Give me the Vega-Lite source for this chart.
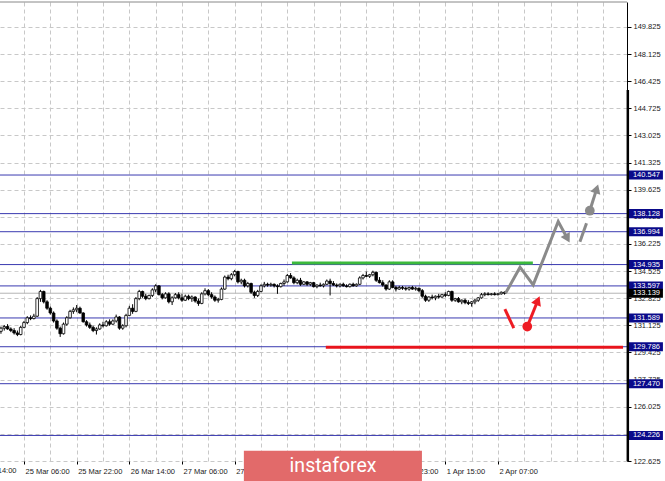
{
"$schema":"https://vega.github.io/schema/vega-lite/v6.json",
"width":627,"height":459,
"autosize":"none",
"padding":{"left":0,"top":2,"right":38,"bottom":20},
"background":"white",
"config":{"view":{"stroke":null}},
"resolve":{"axis":{"x":"independent","y":"independent"}},
"datasets":{
"levels":[{"level":140.547},{"level":138.128},{"level":136.994},{"level":134.935},{"level":133.597},{"level":131.589},{"level":129.786},{"level":127.470},{"level":124.226}],
"price":[{"level":133.139}],
"zones":[{"t1":81.4,"t2":154.6,"p":135.03,"z":"resistance"},{"t1":91.7,"t2":182.0,"p":129.75,"z":"support"}],
"greypath":[{"seg":"a","i":0,"t":146.3,"p":133.14},{"seg":"a","i":1,"t":150.7,"p":134.77},{"seg":"a","i":2,"t":154.7,"p":133.66},{"seg":"a","i":3,"t":162.3,"p":137.63},{"seg":"a","i":4,"t":165.1,"p":136.57},{"seg":"b","i":0,"t":168.9,"p":136.37},{"seg":"b","i":1,"t":170.9,"p":137.52},{"seg":"c","i":0,"t":171.9,"p":138.31},{"seg":"c","i":1,"t":174.0,"p":139.69}],
"redpath":[{"seg":"a","i":0,"t":146.1,"p":132.14},{"seg":"a","i":1,"t":148.8,"p":130.95},{"seg":"b","i":0,"t":152.9,"p":131.05},{"seg":"b","i":1,"t":156.1,"p":132.68}],
"dots":[{"t":171.9,"p":138.31,"k":"grey"},{"t":152.9,"p":131.05,"k":"red"}],
"candles":[
{"t":-7,"o":130.75,"h":131.05,"l":130.6,"c":130.95},
{"t":-6,"o":130.95,"h":131.15,"l":130.8,"c":131.05},
{"t":-5,"o":131.05,"h":131.2,"l":130.85,"c":130.9},
{"t":-4,"o":130.9,"h":131.0,"l":130.7,"c":130.8},
{"t":-3,"o":130.8,"h":130.95,"l":130.55,"c":130.65},
{"t":-2,"o":130.65,"h":130.8,"l":130.45,"c":130.55},
{"t":-1,"o":130.55,"h":131.1,"l":130.5,"c":131.0},
{"t":0,"o":131.0,"h":131.4,"l":130.95,"c":131.3},
{"t":1,"o":131.3,"h":131.7,"l":131.2,"c":131.6},
{"t":2,"o":131.6,"h":131.75,"l":131.45,"c":131.55},
{"t":3,"o":131.55,"h":131.85,"l":131.5,"c":131.7},
{"t":4,"o":131.7,"h":132.9,"l":131.65,"c":132.8},
{"t":5,"o":132.8,"h":133.35,"l":132.6,"c":133.25},
{"t":6,"o":133.25,"h":133.3,"l":132.5,"c":132.6},
{"t":7,"o":132.6,"h":132.7,"l":132.1,"c":132.2},
{"t":8,"o":132.2,"h":132.3,"l":131.8,"c":131.9},
{"t":9,"o":131.9,"h":132.0,"l":131.3,"c":131.4},
{"t":10,"o":131.4,"h":131.5,"l":130.85,"c":130.95},
{"t":11,"o":130.95,"h":131.05,"l":130.4,"c":130.6},
{"t":12,"o":130.6,"h":131.3,"l":130.55,"c":131.2},
{"t":13,"o":131.2,"h":131.7,"l":131.1,"c":131.6},
{"t":14,"o":131.6,"h":132.1,"l":131.55,"c":132.0},
{"t":15,"o":132.0,"h":132.25,"l":131.85,"c":132.1},
{"t":16,"o":132.1,"h":132.4,"l":131.95,"c":132.2},
{"t":17,"o":132.2,"h":132.3,"l":131.85,"c":131.9},
{"t":18,"o":131.9,"h":131.95,"l":131.3,"c":131.35},
{"t":19,"o":131.35,"h":131.45,"l":131.05,"c":131.15},
{"t":20,"o":131.15,"h":131.3,"l":130.9,"c":131.0},
{"t":21,"o":131.0,"h":131.1,"l":130.7,"c":130.8},
{"t":22,"o":130.8,"h":131.0,"l":130.55,"c":130.9},
{"t":23,"o":130.9,"h":131.25,"l":130.85,"c":131.15},
{"t":24,"o":131.15,"h":131.35,"l":131.0,"c":131.1},
{"t":25,"o":131.1,"h":131.45,"l":131.05,"c":131.35},
{"t":26,"o":131.35,"h":131.5,"l":131.1,"c":131.2},
{"t":27,"o":131.2,"h":131.5,"l":131.15,"c":131.4},
{"t":28,"o":131.4,"h":131.8,"l":131.3,"c":131.65},
{"t":29,"o":131.65,"h":131.7,"l":130.85,"c":130.95},
{"t":30,"o":130.95,"h":131.2,"l":130.85,"c":131.1},
{"t":31,"o":131.1,"h":131.85,"l":131.0,"c":131.75},
{"t":32,"o":131.75,"h":132.35,"l":131.7,"c":132.2},
{"t":33,"o":132.2,"h":132.45,"l":131.85,"c":132.0},
{"t":34,"o":132.0,"h":132.9,"l":131.95,"c":132.8},
{"t":35,"o":132.8,"h":133.35,"l":132.7,"c":133.25},
{"t":36,"o":133.25,"h":133.3,"l":132.85,"c":132.95},
{"t":37,"o":132.95,"h":133.1,"l":132.7,"c":132.8},
{"t":38,"o":132.8,"h":133.05,"l":132.75,"c":133.0},
{"t":39,"o":133.0,"h":133.45,"l":132.9,"c":133.35},
{"t":40,"o":133.35,"h":133.7,"l":133.2,"c":133.6},
{"t":41,"o":133.6,"h":133.65,"l":133.0,"c":133.05},
{"t":42,"o":133.05,"h":133.15,"l":132.75,"c":132.85},
{"t":43,"o":132.85,"h":133.2,"l":132.8,"c":133.1},
{"t":44,"o":133.1,"h":133.2,"l":132.5,"c":132.6},
{"t":45,"o":132.6,"h":132.95,"l":132.4,"c":132.85},
{"t":46,"o":132.85,"h":133.15,"l":132.8,"c":133.05},
{"t":47,"o":133.05,"h":133.2,"l":132.75,"c":132.85},
{"t":48,"o":132.85,"h":133.1,"l":132.6,"c":132.7},
{"t":49,"o":132.7,"h":133.05,"l":132.65,"c":132.95},
{"t":50,"o":132.95,"h":133.05,"l":132.7,"c":132.8},
{"t":51,"o":132.8,"h":133.0,"l":132.6,"c":132.9},
{"t":52,"o":132.9,"h":132.95,"l":132.55,"c":132.65},
{"t":53,"o":132.65,"h":132.8,"l":132.35,"c":132.5},
{"t":54,"o":132.5,"h":133.2,"l":132.45,"c":133.1},
{"t":55,"o":133.1,"h":133.45,"l":133.0,"c":133.3},
{"t":56,"o":133.3,"h":133.4,"l":132.95,"c":133.05},
{"t":57,"o":133.05,"h":133.2,"l":132.8,"c":132.9},
{"t":58,"o":132.9,"h":133.0,"l":132.6,"c":132.7},
{"t":59,"o":132.7,"h":132.85,"l":132.55,"c":132.75},
{"t":60,"o":132.75,"h":133.5,"l":132.7,"c":133.4},
{"t":61,"o":133.4,"h":134.25,"l":133.35,"c":134.15},
{"t":62,"o":134.15,"h":134.3,"l":133.95,"c":134.05},
{"t":63,"o":134.05,"h":134.4,"l":133.95,"c":134.3},
{"t":64,"o":134.3,"h":134.6,"l":134.2,"c":134.5},
{"t":65,"o":134.5,"h":134.55,"l":133.75,"c":133.85},
{"t":66,"o":133.85,"h":134.05,"l":133.7,"c":133.95},
{"t":67,"o":133.95,"h":134.05,"l":133.5,"c":133.6},
{"t":68,"o":133.6,"h":133.85,"l":133.5,"c":133.75},
{"t":69,"o":133.75,"h":133.8,"l":133.1,"c":133.2},
{"t":70,"o":133.2,"h":133.3,"l":132.85,"c":133.0},
{"t":71,"o":133.0,"h":133.35,"l":132.9,"c":133.25},
{"t":72,"o":133.25,"h":133.7,"l":133.2,"c":133.6},
{"t":73,"o":133.6,"h":133.85,"l":133.5,"c":133.7},
{"t":74,"o":133.7,"h":133.8,"l":133.55,"c":133.65},
{"t":75,"o":133.65,"h":133.8,"l":133.55,"c":133.7},
{"t":76,"o":133.7,"h":133.75,"l":133.5,"c":133.6},
{"t":77,"o":133.6,"h":133.7,"l":133.1,"c":133.55},
{"t":78,"o":133.55,"h":133.8,"l":133.5,"c":133.75},
{"t":79,"o":133.75,"h":134.0,"l":133.6,"c":133.85},
{"t":80,"o":133.85,"h":134.35,"l":133.8,"c":134.25},
{"t":81,"o":134.25,"h":134.4,"l":134.05,"c":134.1},
{"t":82,"o":134.1,"h":134.2,"l":133.7,"c":133.8},
{"t":83,"o":133.8,"h":134.05,"l":133.7,"c":133.95},
{"t":84,"o":133.95,"h":134.1,"l":133.6,"c":133.7},
{"t":85,"o":133.7,"h":133.9,"l":133.65,"c":133.85},
{"t":86,"o":133.85,"h":133.9,"l":133.6,"c":133.7},
{"t":87,"o":133.7,"h":133.85,"l":133.6,"c":133.8},
{"t":88,"o":133.8,"h":133.85,"l":133.5,"c":133.55},
{"t":89,"o":133.55,"h":133.7,"l":133.45,"c":133.65},
{"t":90,"o":133.65,"h":133.8,"l":133.55,"c":133.6},
{"t":91,"o":133.6,"h":133.75,"l":133.5,"c":133.7},
{"t":92,"o":133.7,"h":134.0,"l":133.65,"c":133.9},
{"t":93,"o":133.9,"h":134.05,"l":133.0,"c":133.75},
{"t":94,"o":133.75,"h":133.9,"l":133.6,"c":133.65},
{"t":95,"o":133.65,"h":133.75,"l":133.5,"c":133.6},
{"t":96,"o":133.6,"h":133.75,"l":133.5,"c":133.7},
{"t":97,"o":133.7,"h":133.8,"l":133.55,"c":133.6},
{"t":98,"o":133.6,"h":133.7,"l":133.5,"c":133.55},
{"t":99,"o":133.55,"h":133.75,"l":133.5,"c":133.7},
{"t":100,"o":133.7,"h":133.8,"l":133.55,"c":133.6},
{"t":101,"o":133.6,"h":133.75,"l":133.55,"c":133.7},
{"t":102,"o":133.7,"h":134.2,"l":133.65,"c":134.1},
{"t":103,"o":134.1,"h":134.35,"l":134.0,"c":134.25},
{"t":104,"o":134.25,"h":134.5,"l":134.15,"c":134.2},
{"t":105,"o":134.2,"h":134.35,"l":134.1,"c":134.3},
{"t":106,"o":134.3,"h":134.55,"l":134.2,"c":134.45},
{"t":107,"o":134.45,"h":134.5,"l":133.85,"c":133.95},
{"t":108,"o":133.95,"h":134.15,"l":133.75,"c":133.8},
{"t":109,"o":133.8,"h":133.95,"l":133.55,"c":133.65},
{"t":110,"o":133.65,"h":133.7,"l":133.3,"c":133.4},
{"t":111,"o":133.4,"h":133.95,"l":133.35,"c":133.85},
{"t":112,"o":133.85,"h":133.95,"l":133.45,"c":133.5},
{"t":113,"o":133.5,"h":133.6,"l":133.25,"c":133.4},
{"t":114,"o":133.4,"h":133.6,"l":133.35,"c":133.5},
{"t":115,"o":133.5,"h":133.6,"l":133.35,"c":133.45},
{"t":116,"o":133.45,"h":133.55,"l":133.3,"c":133.4},
{"t":117,"o":133.4,"h":133.55,"l":133.3,"c":133.5},
{"t":118,"o":133.5,"h":133.6,"l":133.35,"c":133.4},
{"t":119,"o":133.4,"h":133.55,"l":133.3,"c":133.45},
{"t":120,"o":133.45,"h":133.5,"l":133.2,"c":133.3},
{"t":121,"o":133.3,"h":133.4,"l":132.85,"c":132.95},
{"t":122,"o":132.95,"h":133.05,"l":132.6,"c":132.7},
{"t":123,"o":132.7,"h":132.95,"l":132.6,"c":132.9},
{"t":124,"o":132.9,"h":133.05,"l":132.75,"c":132.85},
{"t":125,"o":132.85,"h":133.0,"l":132.7,"c":132.95},
{"t":126,"o":132.95,"h":133.1,"l":132.8,"c":132.9},
{"t":127,"o":132.9,"h":133.1,"l":132.85,"c":133.05},
{"t":128,"o":133.05,"h":133.2,"l":132.9,"c":133.0},
{"t":129,"o":133.0,"h":133.3,"l":132.95,"c":133.25},
{"t":130,"o":133.25,"h":133.3,"l":132.6,"c":132.7},
{"t":131,"o":132.7,"h":132.85,"l":132.6,"c":132.8},
{"t":132,"o":132.8,"h":132.9,"l":132.55,"c":132.6},
{"t":133,"o":132.6,"h":132.75,"l":132.45,"c":132.7},
{"t":134,"o":132.7,"h":132.8,"l":132.45,"c":132.55},
{"t":135,"o":132.55,"h":132.7,"l":132.4,"c":132.5},
{"t":136,"o":132.5,"h":132.65,"l":132.3,"c":132.6},
{"t":137,"o":132.6,"h":132.8,"l":132.45,"c":132.7},
{"t":138,"o":132.7,"h":132.9,"l":132.6,"c":132.85},
{"t":139,"o":132.85,"h":133.15,"l":132.8,"c":133.05},
{"t":140,"o":133.05,"h":133.2,"l":132.95,"c":133.1},
{"t":141,"o":133.1,"h":133.2,"l":133.0,"c":133.05},
{"t":142,"o":133.05,"h":133.15,"l":133.0,"c":133.1},
{"t":143,"o":133.1,"h":133.2,"l":133.0,"c":133.05},
{"t":144,"o":133.05,"h":133.15,"l":133.0,"c":133.1},
{"t":145,"o":133.1,"h":133.25,"l":133.05,"c":133.2},
{"t":146,"o":133.2,"h":133.25,"l":133.05,"c":133.14}
]
},
"layer":[
{"data":{"name":"candles"},"mark":{"type":"rule","color":"black","strokeWidth":1,"opacity":0},
 "encoding":{"x":{"field":"t","type":"quantitative","scale":{"domain":[-7.29,183.2],"nice":false,"zero":false,"padding":0},
  "axis":{"orient":"bottom","title":null,"values":[0,8,16,24,32,40,48,56,64,72,80,88,96,104,112,120,128,136,144,152,160,168,176],"grid":true,"gridColor":"#c8c8c8","gridDash":[4,3],"gridWidth":1,"domain":false,"ticks":true,"tickSize":3,"tickColor":"black","tickOpacity":{"condition":{"test":"datum.value % 16 === 0 && datum.value <= 144","value":1},"value":0},
   "labelExpr":"datum.value === 0 ? '25 Mar 06:00' : datum.value === 16 ? '25 Mar 22:00' : datum.value === 32 ? '26 Mar 14:00' : datum.value === 48 ? '27 Mar 06:00' : datum.value === 64 ? '27 Mar 22:00' : datum.value === 80 ? '30 Mar 15:00' : datum.value === 96 ? '31 Mar 07:00' : datum.value === 112 ? '31 Mar 23:00' : datum.value === 128 ? '1 Apr 15:00' : datum.value === 144 ? '2 Apr 07:00' : ''",
   "labelAlign":"left","labelOffset":1,"labelFlush":false,"labelOverlap":false,"labelFont":"Liberation Sans","labelFontSize":7.5,"labelColor":"#1a1a1a","labelPadding":3}},
  "y":{"field":"l","type":"quantitative","scale":{"domain":[122.625,151.39],"nice":false,"zero":false,"padding":0},
  "axis":{"orient":"right","title":null,"values":[122.625,124.325,126.025,127.725,129.425,131.125,132.825,134.525,136.225,137.925,139.625,141.325,143.025,144.725,146.425,148.125,149.825],"format":".3f","grid":true,"gridColor":"#c8c8c8","gridDash":[4,3],"gridWidth":1,"domain":true,"domainColor":"black","domainWidth":1,"ticks":true,"tickColor":"black","tickSize":4,"labelFont":"Liberation Sans","labelFontSize":7.5,"labelColor":"#1a1a1a","labelPadding":2,"labelAlign":"left","labelBaseline":"middle","labelOverlap":false,"labelFlush":false}},
  "y2":{"field":"h"}}},
{"data":{"name":"levels"},"mark":{"type":"rule","color":"#3a3ab0","strokeWidth":1},
 "encoding":{"y":{"field":"level","type":"quantitative","axis":null}}},
{"data":{"name":"price"},"mark":{"type":"rule","color":"#b4b4b4","strokeWidth":1},
 "encoding":{"y":{"field":"level","type":"quantitative","axis":null}}},
{"data":{"name":"zones"},"mark":{"type":"rule","strokeWidth":3},
 "encoding":{"x":{"field":"t1","type":"quantitative","axis":null},"x2":{"field":"t2"},
  "y":{"field":"p","type":"quantitative","axis":null},
  "color":{"condition":{"test":"datum.z === 'resistance'","value":"#3cba3c"},"value":"#e8141c"}}},
{"data":{"name":"candles"},"mark":{"type":"rule","color":"black","strokeWidth":1},
 "encoding":{"x":{"field":"t","type":"quantitative","axis":null},
  "y":{"field":"l","type":"quantitative","axis":null},"y2":{"field":"h"}}},
{"data":{"name":"candles"},"mark":{"type":"bar","width":2.6,"stroke":"black","strokeWidth":0.8},
 "encoding":{"x":{"field":"t","type":"quantitative","axis":null},
  "y":{"field":"o","type":"quantitative","axis":null},"y2":{"field":"c"},
  "fill":{"condition":{"test":"datum.c >= datum.o","value":"white"},"value":"black"}}},
{"data":{"name":"greypath"},"mark":{"type":"line","color":"#8a8a8a","strokeWidth":3},
 "encoding":{"x":{"field":"t","type":"quantitative","axis":null},
  "y":{"field":"p","type":"quantitative","axis":null},
  "detail":{"field":"seg"},"order":{"field":"i"}}},
{"data":{"name":"redpath"},"mark":{"type":"line","color":"#ee1c24","strokeWidth":3},
 "encoding":{"x":{"field":"t","type":"quantitative","axis":null},
  "y":{"field":"p","type":"quantitative","axis":null},
  "detail":{"field":"seg"},"order":{"field":"i"}}},
{"data":{"name":"dots"},"mark":{"type":"point","filled":true,"size":95,"opacity":1},
 "encoding":{"x":{"field":"t","type":"quantitative","axis":null},
  "y":{"field":"p","type":"quantitative","axis":null},
  "color":{"condition":{"test":"datum.k === 'grey'","value":"#8a8a8a"},"value":"#ee1c24"}}},
{"data":{"values":[{"t":165.1,"p":136.57}]},"mark":{"type":"point","shape":"triangle-up","filled":true,"size":110,"angle":151,"color":"#8a8a8a","opacity":1},
 "encoding":{"x":{"field":"t","type":"quantitative","axis":null},"y":{"field":"p","type":"quantitative","axis":null}}},
{"data":{"values":[{"t":174.0,"p":139.69}]},"mark":{"type":"point","shape":"triangle-up","filled":true,"size":110,"angle":18,"color":"#8a8a8a","opacity":1},
 "encoding":{"x":{"field":"t","type":"quantitative","axis":null},"y":{"field":"p","type":"quantitative","axis":null}}},
{"data":{"values":[{"t":156.1,"p":132.68}]},"mark":{"type":"point","shape":"triangle-up","filled":true,"size":110,"angle":23,"color":"#ee1c24","opacity":1},
 "encoding":{"x":{"field":"t","type":"quantitative","axis":null},"y":{"field":"p","type":"quantitative","axis":null}}},
{"data":{"values":[{"label":"instaforex"}]},"mark":{"type":"rect","color":"#e26a6a"},
 "encoding":{"x":{"value":{"expr":"scale('x', 66.8)"}},"x2":{"value":{"expr":"scale('x', 120.9)"}},
  "y":{"value":{"expr":"scale('y', 123.27)"}},"y2":{"value":{"expr":"scale('y', 121.3)"}}}},
{"data":{"values":[{"label":"instaforex"}]},"mark":{"type":"text","color":"white","font":"Roboto","fontSize":19.5,"align":"center","baseline":"middle"},
 "encoding":{"x":{"value":{"expr":"scale('x', 93.9)"}},"y":{"value":{"expr":"scale('y', 122.3)"}},"text":{"field":"label"}}},
{"data":{"values":[{"t":-16,"label":"24 Mar 14:00"}]},"mark":{"type":"text","color":"#1a1a1a","font":"Liberation Sans","fontSize":7.5,"align":"left","baseline":"top","dx":1,"dy":6},
 "encoding":{"x":{"field":"t","type":"quantitative","axis":null},
  "y":{"value":{"expr":"scale('y', 122.625)"}},"text":{"field":"label"}}},
{"data":{"name":"levels"},"mark":{"type":"point","shape":"M-1,-0.265L1,-0.265L1,0.265L-1,0.265Z","filled":true,"size":1156,"color":"#0a0a8a","opacity":1},
 "encoding":{"x":{"value":{"expr":"scale('x', 188.95)"}},"y":{"field":"level","type":"quantitative","axis":null}}},
{"data":{"name":"levels"},"mark":{"type":"text","color":"white","font":"Liberation Sans","fontSize":7.5,"align":"left","baseline":"middle"},
 "encoding":{"x":{"value":{"expr":"scale('x', 185.0)"}},"y":{"field":"level","type":"quantitative","axis":null},
  "text":{"field":"level","type":"quantitative","format":".3f"}}},
{"data":{"name":"price"},"mark":{"type":"point","shape":"M-1,-0.265L1,-0.265L1,0.265L-1,0.265Z","filled":true,"size":1156,"color":"black","opacity":1},
 "encoding":{"x":{"value":{"expr":"scale('x', 188.95)"}},"y":{"field":"level","type":"quantitative","axis":null}}},
{"data":{"name":"price"},"mark":{"type":"text","color":"white","font":"Liberation Sans","fontSize":7.5,"align":"left","baseline":"middle"},
 "encoding":{"x":{"value":{"expr":"scale('x', 185.0)"}},"y":{"field":"level","type":"quantitative","axis":null},
  "text":{"field":"level","type":"quantitative","format":".3f"}}},
{"data":{"values":[{"frame":"right"}]},"mark":{"type":"rule","color":"black","strokeWidth":2.5},
 "encoding":{"x":{"value":{"expr":"scale('x', 183.45)"}},"y":{"value":{"expr":"scale('y', 145.88)"}},"y2":{"value":{"expr":"scale('y', 122.625)"}}}},
{"data":{"values":[{"frame":"top"}]},"mark":{"type":"rule","color":"#888888","strokeWidth":1},
 "encoding":{"y":{"value":{"expr":"scale('y', 151.39)"}}}}
]
}
